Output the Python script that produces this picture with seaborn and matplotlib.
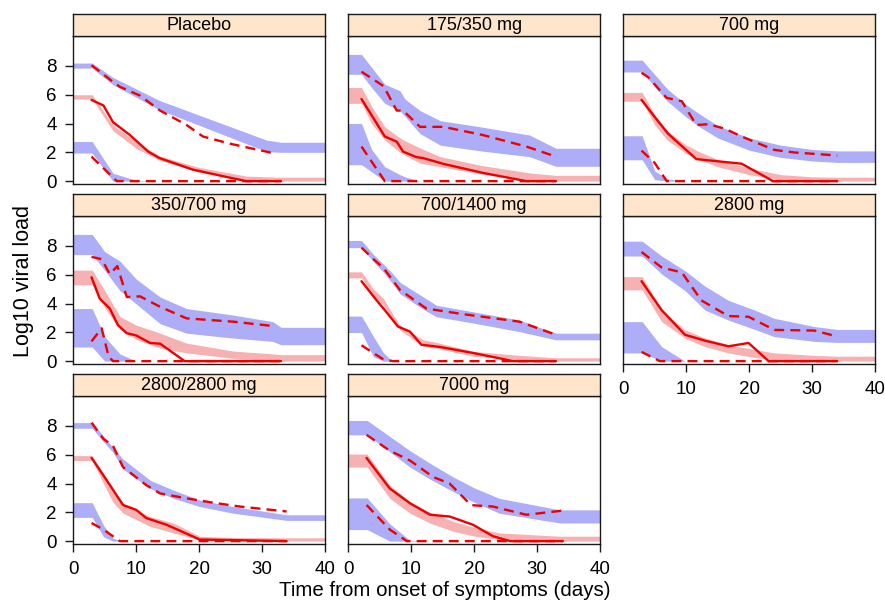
import numpy as np
import pandas as pd
import seaborn as sns
import matplotlib
matplotlib.use("Agg")
import matplotlib.pyplot as plt

# ---------------- data ----------------
panel_names = ["Placebo", "175/350 mg", "700 mg",
               "350/700 mg", "700/1400 mg", "2800 mg",
               "2800/2800 mg", "7000 mg"]

# Placebo
placebo_bt = [0, 3, 6.3, 10, 13.7, 20, 27.5, 30.7, 33, 40]
placebo_up_hi = [8.2, 8.2, 7.2, 6.4, 5.6, 4.58, 3.37, 2.85, 2.7, 2.7]
placebo_up_lo = [7.85, 7.85, 6.7, 5.82, 4.95, 3.88, 2.6, 2.05, 2.0, 2.0]
placebo_md_hi = [6.0, 6.0, 3.9, 2.74, 1.75, 0.95, 0.35, 0.3, 0.27, 0.27]
placebo_md_lo = [5.7, 5.7, 3.5, 2.28, 1.45, 0.62, 0.1, 0.03, 0, 0]
placebo_lw_hi = [2.75, 2.75, 0.55, 0.05, 0, 0, 0, 0, 0, 0]
placebo_lw_lo = [1.95, 1.95, 0, 0, 0, 0, 0, 0, 0, 0]
placebo_t95 = [2.9, 6.1, 7.4, 10.6, 13.8, 18, 20.6, 24.9, 31.7]
placebo_o95 = [8.05, 6.96, 6.55, 5.94, 4.9, 3.9, 3.1, 2.6, 1.95]
placebo_t50 = [2.9, 4.8, 6.3, 9, 11.9, 13.7, 19, 23.8, 27.5, 33]
placebo_o50 = [5.64, 5.25, 4.1, 3.2, 2.05, 1.6, 0.8, 0.34, 0, 0]
placebo_t05 = [2.9, 6.1, 6.9, 33]
placebo_o05 = [1.7, 0.34, 0, 0]

# 175/350 mg
d175_bt = [0, 2.1, 3.7, 5.8, 8.2, 9, 11.4, 14.6, 21, 28.8, 33, 40]
d175_up_hi = [8.8, 8.8, 7.9, 6.73, 6.28, 5.7, 4.9, 4.2, 3.77, 3.2, 2.28, 2.28]
d175_up_lo = [7.42, 7.42, 6.5, 5.4, 4.9, 4.5, 3.3, 2.5, 2.1, 1.7, 1.03, 1.03]
d175_md_hi = [6.5, 6.5, 5.2, 3.77, 3.0, 2.8, 2.3, 1.7, 1.1, 0.57, 0.4, 0.4]
d175_md_lo = [5.4, 5.4, 4.0, 2.85, 2.0, 1.8, 1.25, 1.0, 0.5, 0.07, 0, 0]
d175_lw_hi = [4.0, 4.0, 2.2, 1.0, 0.45, 0.3, 0, 0, 0, 0, 0, 0]
d175_lw_lo = [1.14, 1.14, 0.65, 0, 0, 0, 0, 0, 0, 0, 0, 0]
d175_t95 = [2.1, 5.6, 7.7, 8.7, 11.4, 15.1, 21.4, 28.3, 33]
d175_o95 = [7.6, 6.6, 4.9, 4.9, 3.77, 3.77, 3.2, 2.4, 1.7]
d175_t50 = [2.1, 5.8, 7.7, 8.7, 10.8, 11.9, 15.1, 21.4, 28.3, 33]
d175_o50 = [5.7, 3.1, 2.74, 2.05, 1.67, 1.6, 1.2, 0.57, 0, 0]
d175_t05 = [2.1, 5.8, 33]
d175_o05 = [2.4, 0, 0]

# 700 mg
d700_bt = [0, 3, 5, 7, 10, 12, 15, 20, 25, 30, 34, 40]
d700_up_hi = [8.4, 8.4, 7.4, 6.4, 5.3, 4.7, 3.85, 3.0, 2.5, 2.2, 2.1, 2.1]
d700_up_lo = [7.58, 7.58, 6.55, 5.55, 4.45, 3.8, 3.0, 2.15, 1.65, 1.4, 1.3, 1.3]
d700_md_hi = [6.16, 6.16, 4.6, 3.5, 2.5, 2.05, 1.5, 0.9, 0.45, 0.3, 0.27, 0.27]
d700_md_lo = [5.55, 5.55, 3.9, 2.85, 1.9, 1.5, 1.0, 0.45, 0.1, 0.02, 0, 0]
d700_lw_hi = [3.15, 3.15, 0.7, 0.15, 0, 0, 0, 0, 0, 0, 0, 0]
d700_lw_lo = [1.48, 1.48, 0.1, 0, 0, 0, 0, 0, 0, 0, 0, 0]
d700_t95 = [2.9, 4, 6.9, 9.3, 11.6, 13.5, 16.1, 18.8, 21.4, 24, 27.2, 34]
d700_o95 = [7.53, 7.2, 5.78, 5.55, 3.9, 3.95, 3.65, 3.1, 2.63, 2.17, 1.99, 1.78]
d700_t50 = [2.9, 5, 7.1, 11.6, 18.8, 23.8, 34]
d700_o50 = [5.64, 4.45, 3.3, 1.53, 1.21, 0, 0]
d700_t05 = [2.9, 5, 6.9, 34]
d700_o05 = [2.12, 1.26, 0, 0]

# 350/700 mg
d350_bt = [0, 3, 5, 7.4, 10, 13.8, 18, 25.4, 31.7, 33, 40]
d350_up_hi = [8.8, 8.8, 7.6, 6.95, 5.7, 4.45, 3.65, 3.2, 2.74, 2.35, 2.35]
d350_up_lo = [7.4, 7.4, 6.3, 4.9, 3.97, 2.6, 1.94, 1.6, 1.37, 1.14, 1.14]
d350_md_hi = [6.32, 6.32, 4.9, 3.1, 2.5, 1.94, 1.25, 0.7, 0.5, 0.45, 0.45]
d350_md_lo = [5.3, 5.3, 3.7, 2.2, 1.5, 0.9, 0.57, 0.2, 0.03, 0, 0]
d350_lw_hi = [3.65, 3.65, 1.7, 0.5, 0, 0, 0, 0, 0, 0, 0]
d350_lw_lo = [0.98, 0.98, 0, 0, 0, 0, 0, 0, 0, 0, 0]
d350_t95 = [2.9, 4.5, 5.8, 7.0, 8.5, 10.6, 13.8, 18, 25.4, 31.7]
d350_o95 = [7.24, 7.08, 6.05, 6.6, 4.45, 4.5, 3.77, 2.97, 2.74, 2.44]
d350_t50 = [2.9, 4.2, 5.8, 7.1, 8.5, 10, 12.2, 13.8, 17.7, 33]
d350_o50 = [5.82, 4.34, 3.65, 2.5, 1.94, 1.78, 1.26, 1.21, 0, 0]
d350_t05 = [2.9, 4.5, 5.6, 6.3, 33]
d350_o05 = [1.37, 2.28, 0.34, 0, 0]

# 700/1400 mg
d1400_bt = [0, 2.1, 4, 5.6, 7, 8.2, 11.9, 14, 19.8, 27.2, 33, 40]
d1400_up_hi = [8.38, 8.38, 7.4, 6.73, 6.1, 5.48, 4.46, 3.88, 3.43, 2.85, 1.94, 1.94]
d1400_up_lo = [7.88, 7.88, 6.9, 6.16, 5.4, 4.68, 3.6, 3.08, 2.65, 2.05, 1.48, 1.48]
d1400_md_hi = [6.2, 6.2, 5.0, 4.34, 3.3, 2.5, 1.48, 1.3, 0.68, 0.4, 0.23, 0.23]
d1400_md_lo = [5.78, 5.78, 4.5, 3.88, 2.9, 2.17, 1.03, 0.9, 0.34, 0.1, 0, 0]
d1400_lw_hi = [3.13, 3.13, 1.7, 0.57, 0, 0, 0, 0, 0, 0, 0, 0]
d1400_lw_lo = [1.99, 1.99, 0.3, 0, 0, 0, 0, 0, 0, 0, 0, 0]
d1400_t95 = [2.1, 4, 5.6, 8.2, 12.4, 18.3, 27.2, 33]
d1400_o95 = [7.88, 7.08, 6.46, 4.95, 3.65, 3.26, 2.74, 1.83]
d1400_t50 = [2.1, 4.5, 5.6, 7.9, 9.8, 11.6, 14.6, 19.8, 26.2, 33]
d1400_o50 = [5.55, 4.22, 3.65, 2.4, 2.05, 1.14, 0.98, 0.57, 0, 0]
d1400_t05 = [2.1, 5.6, 7.1, 33]
d1400_o05 = [1.1, 0.11, 0, 0]

# 2800 mg
d2800_bt = [0, 3, 6.1, 9.8, 13, 16.7, 20.9, 24, 30.4, 34, 40]
d2800_up_hi = [8.33, 8.33, 7.3, 6.28, 5.2, 4.22, 3.54, 2.97, 2.4, 2.2, 2.2]
d2800_up_lo = [7.3, 7.3, 6.05, 4.9, 3.54, 2.85, 2.2, 1.7, 1.37, 1.3, 1.3]
d2800_md_hi = [5.87, 5.87, 3.54, 2.17, 1.6, 1.14, 0.8, 0.57, 0.4, 0.34, 0.34]
d2800_md_lo = [4.95, 4.95, 2.74, 1.6, 1.0, 0.57, 0.25, 0.11, 0.02, 0, 0]
d2800_lw_hi = [2.74, 2.74, 1.0, 0, 0, 0, 0, 0, 0, 0, 0]
d2800_lw_lo = [0.57, 0.57, 0, 0, 0, 0, 0, 0, 0, 0, 0]
d2800_t95 = [2.9, 6.1, 9.3, 12.4, 16.7, 19.9, 24, 30.4, 34]
d2800_o95 = [7.58, 6.5, 6.16, 4.22, 3.13, 3.08, 2.17, 2.12, 1.71]
d2800_t50 = [2.9, 6.1, 9.8, 13, 16.7, 19.9, 23.1, 34]
d2800_o50 = [5.55, 3.54, 1.83, 1.42, 1.03, 1.26, 0, 0]
d2800_t05 = [2.9, 5.8, 34]
d2800_o05 = [0.64, 0, 0]

# 2800/2800 mg
d5600_bt = [0, 3, 4.8, 6.3, 7.9, 12.2, 15.9, 20.1, 25.4, 33.9, 40]
d5600_up_hi = [8.23, 8.23, 7.3, 6.5, 5.7, 4.23, 3.54, 2.85, 2.4, 1.83, 1.83]
d5600_up_lo = [7.84, 7.84, 6.9, 6.17, 5.0, 3.66, 2.97, 2.4, 1.94, 1.44, 1.44]
d5600_md_hi = [5.94, 5.94, 4.7, 3.6, 2.63, 1.71, 1.26, 0.34, 0.25, 0.23, 0.23]
d5600_md_lo = [5.6, 5.6, 4.0, 2.7, 1.94, 1.03, 0.57, 0.07, 0.02, 0, 0]
d5600_lw_hi = [2.67, 2.67, 1.1, 0.2, 0, 0, 0, 0, 0, 0, 0]
d5600_lw_lo = [1.65, 1.65, 0.3, 0, 0, 0, 0, 0, 0, 0, 0]
d5600_t95 = [2.9, 4.8, 6.3, 7.9, 11.6, 13.8, 18, 22.2, 26.5, 33.9]
d5600_o95 = [8.23, 7.09, 6.63, 5.14, 3.89, 3.31, 2.97, 2.67, 2.4, 2.06]
d5600_t50 = [2.9, 5.3, 7.9, 10, 11.6, 14.8, 20.1, 25.4, 33.9]
d5600_o50 = [5.78, 4.23, 2.51, 2.17, 1.6, 1.14, 0.11, 0.07, 0]
d5600_t05 = [2.9, 4.8, 7.4, 33.9]
d5600_o05 = [1.26, 0.8, 0, 0]

# 7000 mg
d7000_bt = [0, 3, 6.6, 9.8, 13, 16.7, 20, 24, 33.6, 40]
d7000_up_hi = [8.38, 8.38, 7.27, 6.28, 5.4, 4.45, 3.7, 2.97, 2.17, 2.17]
d7000_up_lo = [7.38, 7.38, 6.2, 5.14, 4.3, 3.43, 2.7, 1.94, 1.26, 1.26]
d7000_md_hi = [6.05, 6.05, 3.88, 2.74, 2.0, 1.37, 0.95, 0.57, 0.34, 0.34]
d7000_md_lo = [5.14, 5.14, 2.97, 1.94, 1.25, 0.68, 0.35, 0.11, 0, 0]
d7000_lw_hi = [3.0, 3.0, 1.2, 0.05, 0, 0, 0, 0, 0, 0]
d7000_lw_lo = [0.8, 0.8, 0, 0, 0, 0, 0, 0, 0, 0]
d7000_t95 = [2.9, 6.6, 9.8, 13.5, 16.1, 19.5, 23, 28.3, 34.1]
d7000_o95 = [7.38, 6.28, 5.6, 4.45, 4.0, 2.5, 2.4, 1.83, 2.12]
d7000_t50 = [2.9, 6.6, 9.8, 13, 16.1, 19.8, 23, 25.7, 34.1]
d7000_o50 = [5.78, 3.65, 2.63, 1.83, 1.71, 1.14, 0.34, 0, 0]
d7000_t05 = [2.9, 6.6, 9.3, 34.1]
d7000_o05 = [2.51, 0.8, 0, 0]

x_ticks = [0, 10, 20, 30, 40]
y_ticks = [0, 2, 4, 6, 8]
x_label = "Time from onset of symptoms (days)"
y_label = "Log10 viral load"

prefixes = ["placebo", "d175", "d700", "d350", "d1400", "d2800", "d5600", "d7000"]
g = globals()

# ---------------- style ----------------
sns.set_style("ticks")
plt.rcParams["font.family"] = ["Liberation Sans", "DejaVu Sans"]

BLUE = "#ADADF8"
PINK = "#F6B2B2"
RED = "#EE0000"
STRIP = "#FFE5CC"
EDGE = "#1A1A1A"
DASH = (0, (4.2, 2.6))

W, H = 885, 604
fig = plt.figure(figsize=(W / 100, H / 100), dpi=100)

col_left = [73.3, 348.3, 623.3]
pw = 251.7
strip_top = [14, 194, 374]
strip_bot = [35.7, 215.7, 395.7]
plot_bot = [184, 364, 544]

for i, (name, p) in enumerate(zip(panel_names, prefixes)):
    r, c = divmod(i, 3)
    l = col_left[c]
    ax = fig.add_axes([l / W, 1 - plot_bot[r] / H, pw / W, (plot_bot[r] - strip_bot[r]) / H])
    sax = fig.add_axes([l / W, 1 - strip_bot[r] / H, pw / W, (strip_bot[r] - strip_top[r]) / H])

    bt = g[p + "_bt"]
    ax.fill_between(bt, g[p + "_up_lo"], g[p + "_up_hi"], color=BLUE, lw=0)
    ax.fill_between(bt, g[p + "_lw_lo"], g[p + "_lw_hi"], color=BLUE, lw=0)
    ax.fill_between(bt, g[p + "_md_lo"], g[p + "_md_hi"], color=PINK, lw=0)

    d95 = pd.DataFrame({"t": g[p + "_t95"], "v": g[p + "_o95"]})
    d50 = pd.DataFrame({"t": g[p + "_t50"], "v": g[p + "_o50"]})
    d05 = pd.DataFrame({"t": g[p + "_t05"], "v": g[p + "_o05"]})
    sns.lineplot(data=d95, x="t", y="v", ax=ax, color=RED, lw=1.7,
                 linestyle=DASH, estimator=None, sort=False)
    sns.lineplot(data=d05, x="t", y="v", ax=ax, color=RED, lw=1.7,
                 linestyle=DASH, estimator=None, sort=False)
    sns.lineplot(data=d50, x="t", y="v", ax=ax, color=RED, lw=1.7,
                 estimator=None, sort=False)

    ax.set_xlim(0, 40)
    ax.set_ylim(-0.2, 10.1)
    ax.set_xlabel("")
    ax.set_ylabel("")
    ax.set_xticks(x_ticks)
    ax.set_yticks(y_ticks)
    for s in ax.spines.values():
        s.set_visible(True)
        s.set_color(EDGE)
        s.set_linewidth(1.0)
    ax.tick_params(axis="both", direction="out", length=6, width=1.0,
                   color=EDGE, labelsize=13.5, labelcolor="black", pad=6)
    show_x = (r == 2) or (i == 5)
    show_y = (c == 0)
    ax.tick_params(axis="x", bottom=show_x, labelbottom=show_x)
    ax.tick_params(axis="y", left=show_y, labelleft=show_y)

    sax.set_facecolor(STRIP)
    sax.set_xticks([])
    sax.set_yticks([])
    for s in sax.spines.values():
        s.set_visible(True)
        s.set_color(EDGE)
        s.set_linewidth(1.0)
    sax.text(0.5, 0.47, name, ha="center", va="center", fontsize=13,
             color="black", transform=sax.transAxes)

fig.text(445 / W, 1 - 591 / H, x_label, ha="center", va="center",
         fontsize=14.8, color="black")
fig.text(24 / W, 1 - 281 / H, y_label, ha="center", va="center", rotation=90,
         fontsize=15.5, color="black")

fig.savefig("out.png", dpi=100)
